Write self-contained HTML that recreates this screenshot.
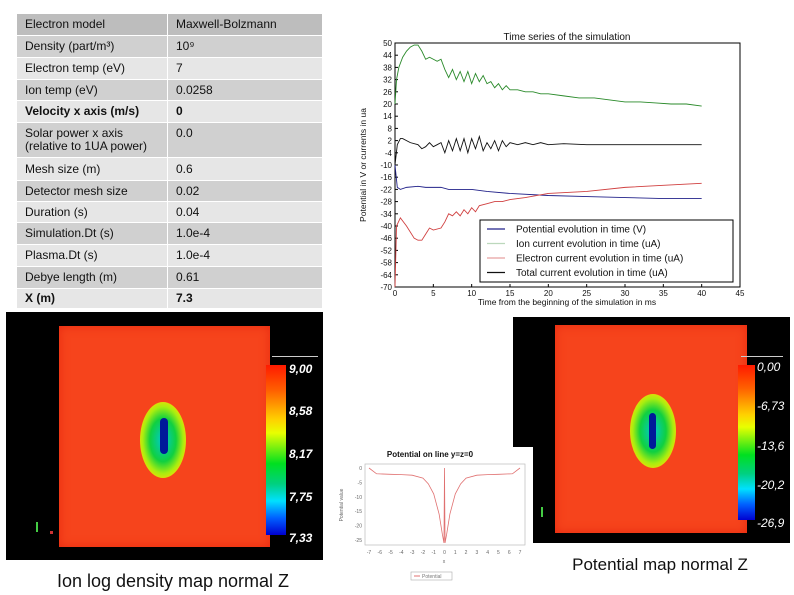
<!DOCTYPE html>
<html><head><meta charset="utf-8"><style>
body{margin:0;width:794px;height:595px;background:#fff;position:relative;overflow:hidden;font-family:"Liberation Sans",sans-serif}
.tbl{position:absolute;left:16px;top:13px;width:307px;border-collapse:collapse;font-size:12px;color:#111}
.tbl td{padding:0 0 0 8px;vertical-align:middle;border:1px solid #fff;line-height:13px}
.tbl td:first-child{width:142px}
.d{background:#d0d0d0}.l{background:#e6e6e6}.h{background:#bdbdbd}
.abs{position:absolute}
.cb{font-style:italic;color:#fff;font-size:12px;font-weight:bold;position:absolute}
</style></head><body>
<table class="tbl">
<tr class="h" style="height:22px"><td>Electron model</td><td>Maxwell-Bolzmann</td></tr>
<tr class="d" style="height:22px"><td>Density (part/m³)</td><td>10⁹</td></tr>
<tr class="l" style="height:22px"><td>Electron temp (eV)</td><td>7</td></tr>
<tr class="d" style="height:21px"><td>Ion temp (eV)</td><td>0.0258</td></tr>
<tr class="l" style="height:22px;font-weight:bold"><td>Velocity x axis (m/s)</td><td>0</td></tr>
<tr class="d" style="height:35px"><td style="vertical-align:top;padding-top:4px">Solar power x axis<br>(relative to 1UA power)</td><td style="vertical-align:top;padding-top:4px">0.0</td></tr>
<tr class="l" style="height:23px"><td>Mesh size (m)</td><td>0.6</td></tr>
<tr class="d" style="height:21px"><td>Detector mesh size</td><td>0.02</td></tr>
<tr class="l" style="height:21px"><td>Duration (s)</td><td>0.04</td></tr>
<tr class="d" style="height:22px"><td>Simulation.Dt (s)</td><td>1.0e-4</td></tr>
<tr class="l" style="height:22px"><td>Plasma.Dt (s)</td><td>1.0e-4</td></tr>
<tr class="d" style="height:22px"><td>Debye length (m)</td><td>0.61</td></tr>
<tr class="l" style="height:20px;font-weight:bold"><td>X (m)</td><td>7.3</td></tr>
</table>

<!-- left heatmap -->
<div class="abs" style="left:6px;top:312px;width:317px;height:248px;background:#000">
 <div class="abs" style="left:53px;top:14px;width:211px;height:221px;background:#f6441c;box-shadow:inset 0 0 10px #e82a10"></div>
 <div class="abs" style="left:134px;top:90px;width:46px;height:76px;border-radius:50%;background:radial-gradient(ellipse at center,#00c8d0 0%,#10d040 40%,#a8ee10 62%,#ffd800 78%,rgba(255,120,20,0.6) 92%,rgba(246,68,28,0) 100%)"></div>
 <div class="abs" style="left:154px;top:106px;width:8px;height:36px;border-radius:4px;background:#001a9a"></div>
 <div class="abs" style="left:260px;top:53px;width:20px;height:170px;background:linear-gradient(#ff1a00,#ff6000 15%,#ffd000 32%,#e8ff00 40%,#00e020 58%,#00d080 70%,#00e0ff 80%,#0060ff 90%,#0000d0)"></div>
 <div class="abs" style="left:266px;top:44px;width:46px;height:1px;background:#ccc"></div>
 <div class="cb" style="left:283px;top:50px">9,00</div>
 <div class="cb" style="left:283px;top:92px">8,58</div>
 <div class="cb" style="left:283px;top:135px">8,17</div>
 <div class="cb" style="left:283px;top:178px">7,75</div>
 <div class="cb" style="left:283px;top:219px">7,33</div>
 <div class="abs" style="left:30px;top:210px;width:2px;height:10px;background:#4c4"></div>
 <div class="abs" style="left:44px;top:219px;width:3px;height:3px;background:#c33"></div>
</div>
<div class="abs" style="left:0;width:346px;top:571px;text-align:center;font-size:18px;color:#111">Ion log density map normal Z</div>

<!-- right heatmap -->
<div class="abs" style="left:513px;top:317px;width:277px;height:226px;background:#000">
 <div class="abs" style="left:42px;top:8px;width:192px;height:208px;background:#f6441c;box-shadow:inset 0 0 10px #e82a10"></div>
 <div class="abs" style="left:117px;top:77px;width:46px;height:74px;border-radius:50%;background:radial-gradient(ellipse at center,#00c8d0 0%,#10d040 40%,#a8ee10 62%,#ffd800 78%,rgba(255,120,20,0.6) 92%,rgba(246,68,28,0) 100%)"></div>
 <div class="abs" style="left:136px;top:96px;width:7px;height:36px;border-radius:4px;background:#001a9a"></div>
 <div class="abs" style="left:225px;top:48px;width:17px;height:155px;background:linear-gradient(#ff1a00,#ff6000 15%,#ffd000 32%,#e8ff00 40%,#00e020 58%,#00d080 70%,#00e0ff 80%,#0060ff 90%,#0000d0)"></div>
 <div class="abs" style="left:228px;top:39px;width:42px;height:1px;background:#ccc"></div>
 <div class="cb" style="left:244px;top:43px;font-weight:normal">0,00</div>
 <div class="cb" style="left:244px;top:82px;font-weight:normal">-6,73</div>
 <div class="cb" style="left:244px;top:122px;font-weight:normal">-13,6</div>
 <div class="cb" style="left:244px;top:161px;font-weight:normal">-20,2</div>
 <div class="cb" style="left:244px;top:199px;font-weight:normal">-26,9</div>
 <div class="abs" style="left:28px;top:190px;width:2px;height:10px;background:#4c4"></div>
</div>
<div class="abs" style="left:540px;width:240px;top:555px;text-align:center;font-size:17px;color:#111">Potential map normal Z</div>

<!-- small line chart -->
<div class="abs" style="left:345px;top:447px;width:188px;height:148px;background:#fff"></div>
<svg class="abs" style="left:0;top:0" width="794" height="595" id="main"></svg>
<script>
// main chart data
const greenT=[0,0.2,0.5,1,1.5,2,2.5,3,3.5,4,4.5,5,5.5,6,6.5,7,7.5,8,8.5,9,9.5,10,10.5,11,11.5,12,12.5,13,13.5,14,14.5,15,16,17,18,19,20,22,24,26,28,30,32,34,36,38,40];
const greenV=[20,32,38,43,46,48,49,49,46,42,43,42,41,42,37,33,37,32,36,31,36,30,35,31,34,30,31,28,30,27,29,27,27,26,26,25,25,24,23,23,22,21,21,20.5,20,20,19];
const blackT=[0,0.3,0.7,1,2,3,3.5,4,4.5,5,5.5,6,6.5,7,7.5,8,8.5,9,9.5,10,10.5,11,11.5,12,12.5,13,13.5,14,14.5,15,16,17,18,19,20,22,25,30,35,40];
const blackV=[-10,0,3,3,1,0,-2,-1,1,-1,0,1,-4,2,-3,3,-3,3,-4,3,-2,4,-3,1,-2,2,-3,2,-1,1,0,1,0,1,0,0.5,0,0,0,0];
const blueT=[0,0.3,0.7,1.5,3,4,6,7,10,12,15,20,25,30,35,40];
const blueV=[-10,-21,-22,-21,-20.5,-21,-21,-22,-22,-23,-24,-25,-25.5,-26,-26.5,-26.5];
const redT=[0,0.2,0.7,1.5,2.5,3,3.5,4,4.5,5,6,6.5,7,7.5,8,8.5,9,9.5,10,10.5,11,12,13,14,15,17,20,25,30,35,40];
const redV=[-70,-40,-36,-40,-46,-47,-47,-44,-41,-42,-41,-38,-34,-35,-33,-35,-32,-34,-31,-33,-30,-29,-28,-28,-27,-26,-24,-23,-21,-20,-19];
const yTicks=[50,44,38,32,26,20,14,8,2,-4,-10,-16,-22,-28,-34,-40,-46,-52,-58,-64,-70];
const xTicks=[0,5,10,15,20,25,30,35,40,45];
// small chart data
const sX=[-7,-6.3,-5,-4,-3,-2,-1.5,-1,-0.5,-0.2,-0.05,0,0.05,0.2,0.5,1,1.5,2,3,4,5,6.3,7];
const sY=[0,-2,-2.2,-2.3,-2.5,-3.5,-5.5,-9,-16,-23,-26,0,-26,-23,-16,-9,-5.5,-3.5,-2.5,-2.3,-2.2,-2,0];
const sXT=[-7,-6,-5,-4,-3,-2,-1,0,1,2,3,4,5,6,7];
const sYT=[0,-5,-10,-15,-20,-25];

const svg=document.getElementById('main');const NS='http://www.w3.org/2000/svg';
function el(t,a,txt){const e=document.createElementNS(NS,t);for(const k in a)e.setAttribute(k,a[k]);if(txt!==undefined)e.textContent=txt;svg.appendChild(e);return e;}
const X0=395,X1=740,Y0=43,Y1=287;
const sx=v=>X0+(v-0)/45*(X1-X0), sy=v=>Y1-(v+70)/120*(Y1-Y0);
let r=el('rect',{x:X0,y:Y0,width:X1-X0,height:Y1-Y0,fill:'#fff',stroke:'#000','stroke-width':1});


yTicks.forEach(v=>{const t=el('text',{x:X0-3,y:sy(v)+3,'font-size':8,'text-anchor':'end',fill:'#111'},v);


el('line',{x1:X0,x2:X0+3,y1:sy(v),y2:sy(v),stroke:'#000'});});
xTicks.forEach(v=>{const t=el('text',{x:sx(v),y:Y1+9,'font-size':8,'text-anchor':'middle',fill:'#111'},v);


el('line',{x1:sx(v),x2:sx(v),y1:Y1,y2:Y1-3,stroke:'#000'});});
let tt=el('text',{x:567,y:40,'font-size':10,'text-anchor':'middle',fill:'#111'},'Time series of the simulation');


let xl=el('text',{x:567,y:305,'font-size':8.5,'text-anchor':'middle',fill:'#111'},'Time from the beginning of the simulation in ms');


let yl=el('text',{x:0,y:0,'font-size':8.5,'text-anchor':'middle',fill:'#111',transform:'translate(366,165) rotate(-90)'},'Potential in V or currents in ua');


function series(T,V,c,n){const p=el('polyline',{points:T.map((t,i)=>sx(t)+','+sy(V[i])).join(' '),fill:'none',stroke:c,'stroke-width':0.9});

}
series(greenT,greenV,'#2a8a2a','ion-current-line');
series(blackT,blackV,'#111','total-current-line');
series(blueT,blueV,'#22228a','potential-line');
series(redT,redV,'#d04040','electron-current-line');
let lg=el('rect',{x:480,y:220,width:253,height:62,fill:'#fff',stroke:'#000'});


[['Potential evolution in time (V)','#22228a'],['Ion current evolution in time (uA)','#bcd8bc'],['Electron current evolution in time (uA)','#e8a0a0'],['Total current evolution in time (uA)','#111']].forEach((d,i)=>{
 const y=229+i*14.5;el('line',{x1:487,x2:505,y1:y,y2:y,stroke:d[1],'stroke-width':1.2});
 const t=el('text',{x:516,y:y+3.5,'font-size':10,fill:'#111'},d[0]);
 
 });
// small chart
const SX0=365,SX1=525,SY0=464,SY1=545;
const qx=v=>369+(v+7)/14*151, qy=v=>468+(-v)/25*72;
let sr=el('rect',{x:SX0,y:SY0,width:SX1-SX0,height:SY1-SY0,fill:'#fff',stroke:'#bbb','stroke-width':0.7});


let st=el('text',{x:430,y:457,'font-size':8,'font-weight':'bold','text-anchor':'middle',fill:'#111'},'Potential on line y=z=0');


sXT.forEach(v=>{const t=el('text',{x:qx(v),y:554,'font-size':5,'text-anchor':'middle',fill:'#666'},v);

});
sYT.forEach(v=>{const t=el('text',{x:362,y:qy(v)+2,'font-size':5,'text-anchor':'end',fill:'#666'},v);

});
el('text',{x:444,y:563,'font-size':5,'text-anchor':'middle',fill:'#666'},'x');
el('text',{x:0,y:0,'font-size':5,'text-anchor':'middle',fill:'#666',transform:'translate(343,505) rotate(-90)'},'Potential value');
let sl=el('polyline',{points:sX.map((v,i)=>qx(v)+','+qy(sY[i])).join(' '),fill:'none',stroke:'#e07070','stroke-width':0.8});


let sleg=el('rect',{x:411,y:572,width:41,height:8,fill:'#fff',stroke:'#aaa','stroke-width':0.6});


el('line',{x1:414,x2:420,y1:576,y2:576,stroke:'#e07070'});
el('text',{x:422,y:578,'font-size':5,fill:'#777'},'Potential');
</script>
</body></html>
